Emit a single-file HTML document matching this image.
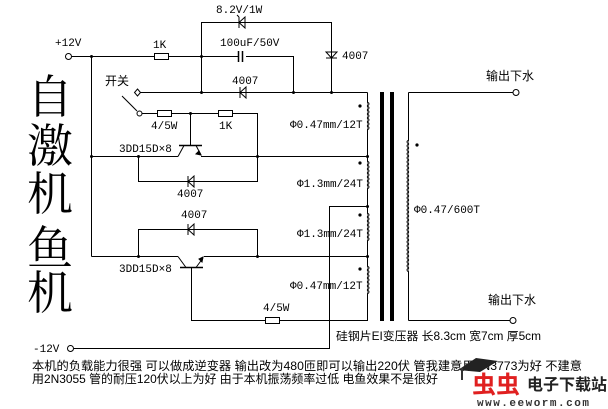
<!DOCTYPE html>
<html><head><meta charset="utf-8"><style>
body{margin:0;background:#fff}
svg{display:block}
text{font-family:"Liberation Mono","Noto Sans CJK SC",monospace;font-size:11px;fill:#000}
.c{font-family:"Liberation Sans","Noto Sans CJK SC",sans-serif}
.t{font-family:"Noto Serif CJK SC",serif;font-size:46px}
</style></head><body>
<svg width="608" height="409" viewBox="0 0 608 409" xmlns="http://www.w3.org/2000/svg">
<g stroke="#000" stroke-width="1" fill="none">
<circle cx="68.5" cy="56.5" r="3"/>
<path d="M72 56.5H154M168 56.5H238M246 56.5H293.5V92.5"/>
<rect x="154.5" y="53.5" width="14" height="6"/>
<path d="M238.5 51v11M242.5 51v11" stroke-width="1.5"/>
<path d="M201.5 56V22.5H331.5V92.5M201.5 56V92.5"/>
<path d="M245 17v11l-6-5.5z"/><path d="M239 17v11M239 17l-2-2"/>
<path d="M326 52h11l-5.5 6z M326 58h11"/>
<path d="M137 92.5H367.5"/>
<path d="M137.5 89l3 3.5-3 3.5-3-3.5z" fill="#fff"/>
<path d="M246 87v11l-6-5.5z M240 87v11"/>
<path d="M122 96L137 111"/>
<circle cx="139.5" cy="113.5" r="2.5"/>
<path d="M142 113.5H157M171 113.5H218M232 113.5H257.5V156.5"/>
<rect x="157.5" y="110.5" width="14" height="6"/>
<rect x="218.5" y="110.5" width="14" height="6"/>
<path d="M190.5 113.5V145"/>
<path d="M179 145.5H202" stroke-width="1.5"/>
<path d="M184 145.5L178 156.5M196 145.5L201 155"/>
<path d="M201 155l-5-1 3-3z" fill="#000"/>
<path d="M91.5 56.5V256.5M91.5 156.5H178M201 156.5H367.5"/>
<path d="M138.5 156.5V181.5H257.5V156.5"/>
<path d="M194 176v11l-6-5.5z M188 176v11"/>
<path d="M91.5 256.5H178M204 256.5H367.5"/>
<path d="M138.5 256.5V229.5H257.5V256.5"/>
<path d="M194 224v11l-6-5.5z M188 224v11"/>
<path d="M180 267.5H203" stroke-width="1.5"/>
<path d="M178 256.5L186 267.5M196 267.5L203 258"/>
<path d="M203 257l-1 5-3-3z" fill="#000"/>
<path d="M191.5 267.5V320.5H265M280 320.5H367.5V92.5"/>
<rect x="265.5" y="317.5" width="14" height="6"/>
<circle cx="70.5" cy="348.5" r="3"/>
<path d="M74 348.5H329.5V206.5H367.5"/>
</g>
<rect x="380" y="92" width="4" height="229" fill="#000"/>
<rect x="390" y="92" width="4" height="229" fill="#000"/>
<g stroke="#000" fill="none">
<path d="M408.5 92.5V320.5M408.5 92.5H513M408.5 320.5H510"/>
<circle cx="516" cy="92.5" r="3"/><circle cx="513" cy="320.5" r="3"/>
</g>
<g stroke="#000" fill="#fff" stroke-width="1">
<path d="M367.5 102q3 2 0 4q3 2 0 4q3 2 0 4q3 2 0 4q3 2 0 4q3 2 0 4q3 2 0 4"/>
<path d="M367.5 161q3 2 0 4q3 2 0 4q3 2 0 4q3 2 0 4q3 2 0 4q3 2 0 4q3 2 0 4"/>
<path d="M367.5 213q3 2 0 4q3 2 0 4q3 2 0 4q3 2 0 4q3 2 0 4q3 2 0 4q3 2 0 4"/>
<path d="M367.5 266q3 2 0 4q3 2 0 4q3 2 0 4q3 2 0 4q3 2 0 4q3 2 0 4q3 2 0 4"/>
<path d="M408.5 140q-3 2 0 4q-3 2 0 4q-3 2 0 4q-3 2 0 4q-3 2 0 4q-3 2 0 4q-3 2 0 4q-3 2 0 4q-3 2 0 4q-3 2 0 4q-3 2 0 4q-3 2 0 4q-3 2 0 4q-3 2 0 4q-3 2 0 4q-3 2 0 4q-3 2 0 4q-3 2 0 4q-3 2 0 4q-3 2 0 4q-3 2 0 4q-3 2 0 4q-3 2 0 4q-3 2 0 4q-3 2 0 4q-3 2 0 4q-3 2 0 4q-3 2 0 4q-3 2 0 4q-3 2 0 4q-3 2 0 4q-3 2 0 4q-3 2 0 4"/>
</g>
<g fill="#000">
<circle cx="360" cy="106" r="1.6"/><circle cx="360" cy="163" r="1.6"/>
<circle cx="360" cy="215" r="1.6"/><circle cx="360" cy="269" r="1.6"/>
<circle cx="417" cy="145" r="1.6"/>
<circle cx="91.5" cy="56.5" r="1.5"/><circle cx="201.5" cy="56.5" r="1.5"/>
<circle cx="201.5" cy="92.5" r="1.5"/><circle cx="293.5" cy="92.5" r="1.5"/>
<circle cx="331.5" cy="92.5" r="1.5"/><circle cx="190.5" cy="113.5" r="1.5"/>
<circle cx="91.5" cy="156.5" r="1.5"/><circle cx="138.5" cy="156.5" r="1.5"/>
<circle cx="257.5" cy="156.5" r="1.5"/><circle cx="367.5" cy="156.5" r="1.5"/>
<circle cx="367.5" cy="206.5" r="1.5"/><circle cx="367.5" cy="256.5" r="1.5"/>
<circle cx="138.5" cy="256.5" r="1.5"/><circle cx="257.5" cy="256.5" r="1.5"/>
</g>
<text x="55" y="46">+12V</text>
<text x="153" y="48">1K</text>
<text x="216" y="13">8.2V/1W</text>
<text x="220" y="46">100uF/50V</text>
<text x="342" y="59">4007</text>
<text x="232" y="84">4007</text>
<text class="c" x="105" y="85" style="font-size:12px">开关</text>
<text x="151" y="129">4/5W</text>
<text x="219" y="129">1K</text>
<text x="119" y="152">3DD15D×8</text>
<text x="177" y="197">4007</text>
<text x="181" y="218">4007</text>
<text x="119" y="272">3DD15D×8</text>
<text x="263" y="311">4/5W</text>
<text x="290" y="128">Φ0.47mm/12T</text>
<text x="297" y="187">Φ1.3mm/24T</text>
<text x="297" y="237">Φ1.3mm/24T</text>
<text x="290" y="289">Φ0.47mm/12T</text>
<text x="414" y="213">Φ0.47/600T</text>
<text class="c" x="486" y="80" style="font-size:12px">输出下水</text>
<text class="c" x="488" y="304" style="font-size:12px">输出下水</text>
<text class="c" x="336" y="340" style="font-size:11.5px" textLength="205" lengthAdjust="spacingAndGlyphs">硅钢片EI变压器 长8.3cm 宽7cm 厚5cm</text>
<text x="33" y="352">-12V</text>
<text class="t" x="27" y="113">自</text>
<text class="t" x="27" y="162">激</text>
<text class="t" x="27" y="210">机</text>
<text class="t" x="27" y="264">鱼</text>
<text class="t" x="27" y="309">机</text>
<text class="c" x="32" y="370" style="font-size:12px" textLength="550" lengthAdjust="spacingAndGlyphs">本机的负载能力很强 可以做成逆变器 输出改为480匝即可以输出220伏 管我建意用2N3773为好 不建意</text>
<text class="c" x="32" y="383" style="font-size:12px" textLength="406" lengthAdjust="spacingAndGlyphs">用2N3055 管的耐压120伏以上为好 由于本机振荡频率过低 电鱼效果不是很好</text>
<path d="M458 370l18-12 22 3-18 11z" fill="#222"/>
<path d="M462 368v12" stroke="#333" stroke-width="2"/>
<text class="c" x="472" y="393" style="font-size:24px;font-weight:bold;fill:#e02020">虫虫</text>
<text class="c" x="527" y="390" style="font-size:16px;font-weight:bold;fill:#222">电子下载站</text>
<text x="477" y="406" style="font-size:11px;font-weight:bold;fill:#333;letter-spacing:1.5px">www.eeworm.com</text>
</svg>
</body></html>
